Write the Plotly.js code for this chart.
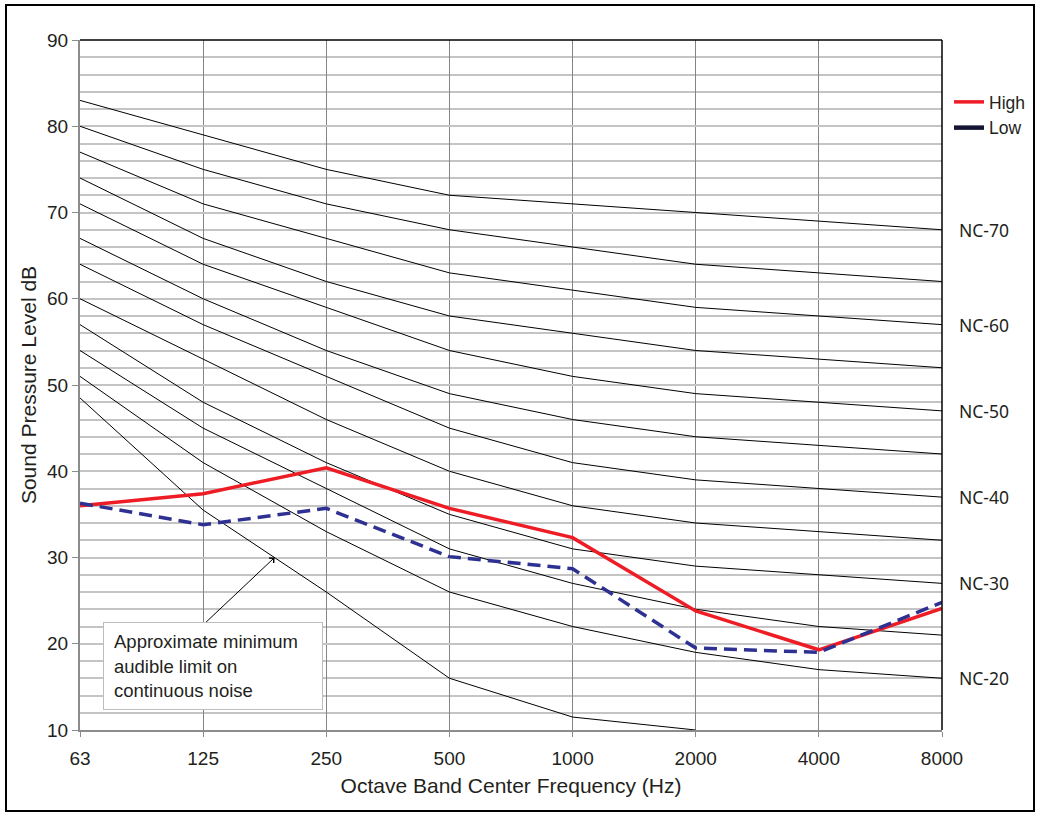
<!DOCTYPE html>
<html>
<head>
<meta charset="utf-8">
<script src="https://cdn.plot.ly/plotly-3.0.1.min.js"></script>
<style>
  html, body { margin: 0; padding: 0; background: #ffffff; }
  #chart { width: 1037px; height: 814px; }
</style>
</head>
<body>
<div id="chart"></div>
<script>
// ---- Data ----
const freqLabels = ['63', '125', '250', '500', '1000', '2000', '4000', '8000'];

const nc70 = [83, 79, 75, 72, 71, 70, 69, 68];
const nc65 = [80, 75, 71, 68, 66, 64, 63, 62];
const nc60 = [77, 71, 67, 63, 61, 59, 58, 57];
const nc55 = [74, 67, 62, 58, 56, 54, 53, 52];
const nc50 = [71, 64, 59, 54, 51, 49, 48, 47];
const nc45 = [67, 60, 54, 49, 46, 44, 43, 42];
const nc40 = [64, 57, 51, 45, 41, 39, 38, 37];
const nc35 = [60, 53, 46, 40, 36, 34, 33, 32];
const nc30 = [57, 48, 41, 35, 31, 29, 28, 27];
const nc25 = [54, 45, 38, 31, 27, 24, 22, 21];
const nc20 = [51, 41, 33, 26, 22, 19, 17, 16];
const audibleLimit = [48.5, 35.5, 26, 16, 11.5, 10, null, null];

const highSeries = [36, 37.4, 40.4, 35.7, 32.3, 23.8, 19.3, 24.1];
const lowSeries  = [36.3, 33.8, 35.7, 30.1, 28.7, 19.5, 19.0, 24.8];

const ncCurves = [nc70, nc65, nc60, nc55, nc50, nc45, nc40, nc35, nc30, nc25, nc20];
const ncLabelNames = ['NC-70', 'NC-60', 'NC-50', 'NC-40', 'NC-30', 'NC-20'];
const ncLabelCurves = [nc70, nc60, nc50, nc40, nc30, nc20];

const annotationText = 'Approximate minimum<br>audible limit on<br>continuous noise';
const arrowTarget = { x: 1.58, y: 30 };  // point on the audible-limit curve

// ---- Build ----
const xIdx = freqLabels.map((_, i) => i);
const W = 1037, H = 814;
const M = { l: 80, r: 95, t: 40, b: 84, autoexpand: false };
const pw = W - M.l - M.r, ph = H - M.t - M.b;
const px2paperX = p => (p - M.l) / pw;
const px2paperY = p => (H - M.b - p) / ph;

const traces = [];
ncCurves.concat([audibleLimit]).forEach(c => {
  traces.push({
    x: xIdx, y: c, type: 'scatter', mode: 'lines',
    line: { color: '#000000', width: 1 },
    showlegend: false, hoverinfo: 'skip', connectgaps: false
  });
});
traces.push({
  x: xIdx, y: highSeries, type: 'scatter', mode: 'lines', name: 'High',
  line: { color: '#ee1d25', width: 3.5 }
});
traces.push({
  x: xIdx, y: lowSeries, type: 'scatter', mode: 'lines', name: 'Low',
  line: { color: '#2e3192', width: 3.5, dash: '13px,7px' }, showlegend: false
});
// legend proxy for "Low" (drawn black in the reference legend)
traces.push({
  x: [null], y: [null], type: 'scatter', mode: 'lines', name: 'Low',
  line: { color: '#141433', width: 4.5 }
});

const annotations = ncLabelNames.map((name, i) => ({
  xref: 'paper', yref: 'y', x: px2paperX(957), y: ncLabelCurves[i][ncLabelCurves[i].length - 1],
  xanchor: 'left', yanchor: 'middle', text: name, showarrow: false,
  font: { family: 'Noto Sans, Open Sans, sans-serif', size: 17.5, color: '#231f20' }
}));
annotations.push({
  xref: 'x', yref: 'y', x: arrowTarget.x, y: arrowTarget.y,
  ax: -71, ay: 67, axref: 'pixel', ayref: 'pixel',
  text: '', showarrow: true, arrowhead: 4, arrowsize: 1.3, arrowwidth: 1, arrowcolor: '#000000'
});
annotations.push({
  xref: 'paper', yref: 'paper', x: px2paperX(103), y: px2paperY(710),
  xanchor: 'left', yanchor: 'bottom', align: 'left', valign: 'middle',
  text: annotationText, showarrow: false,
  width: 198, height: 66, borderpad: 10,
  bgcolor: '#ffffff', bordercolor: '#bdbdbd', borderwidth: 1,
  font: { family: 'Liberation Sans, Arial, sans-serif', size: 18.5, color: '#231f20' }
});

const shapes = [
  { type: 'line', xref: 'paper', yref: 'paper', x0: 0, x1: 1, y0: 1, y1: 1, line: { color: '#000000', width: 1.5 } },
  { type: 'line', xref: 'paper', yref: 'paper', x0: 1, x1: 1, y0: 0, y1: 1, line: { color: '#000000', width: 1.5 } },
  { type: 'rect', xref: 'paper', yref: 'paper',
    x0: px2paperX(6), x1: px2paperX(1034), y0: px2paperY(811), y1: px2paperY(5),
    line: { color: '#000000', width: 2 } }
];

const layout = {
  width: W, height: H,
  margin: M,
  paper_bgcolor: '#ffffff', plot_bgcolor: '#ffffff',
  font: { family: 'Liberation Sans, Arial, sans-serif', size: 17, color: '#231f20' },
  showlegend: true,
  legend: {
    x: px2paperX(949), y: px2paperY(84), xanchor: 'left', yanchor: 'top',
    bgcolor: 'rgba(0,0,0,0)', borderwidth: 0,
    font: { family: 'Liberation Sans, Arial, sans-serif', size: 17.5, color: '#231f20' },
    tracegroupgap: 0
  },
  xaxis: {
    range: [0, 7], tickvals: xIdx, ticktext: freqLabels, automargin: false,
    showgrid: true, gridcolor: '#858585', gridwidth: 1.2, zeroline: false,
    showline: true, linecolor: '#8c8c8c', linewidth: 2,
    ticks: 'outside', ticklen: 5, tickcolor: '#8c8c8c', tickwidth: 1,
    ticklabelstandoff: 5,
    tickfont: { size: 19 },
    title: { text: 'Octave Band Center Frequency (Hz)', font: { size: 21 }, standoff: 11 },
    fixedrange: true
  },
  yaxis: {
    range: [10, 90], tick0: 10, dtick: 10, automargin: false,
    showgrid: true, gridcolor: '#c4c4c4', gridwidth: 2, zeroline: false,
    minor: { dtick: 2, showgrid: true, gridcolor: '#c4c4c4', gridwidth: 2 },
    showline: true, linecolor: '#8c8c8c', linewidth: 2,
    ticks: 'outside', ticklen: 6, tickcolor: '#8c8c8c', tickwidth: 1,
    tickfont: { size: 19 },
    title: { text: 'Sound Pressure Level dB', font: { size: 21 }, standoff: 5 },
    fixedrange: true
  },
  annotations: annotations,
  shapes: shapes
};

Plotly.newPlot('chart', traces, layout, { displayModeBar: false, staticPlot: true });
</script>
</body>
</html>
